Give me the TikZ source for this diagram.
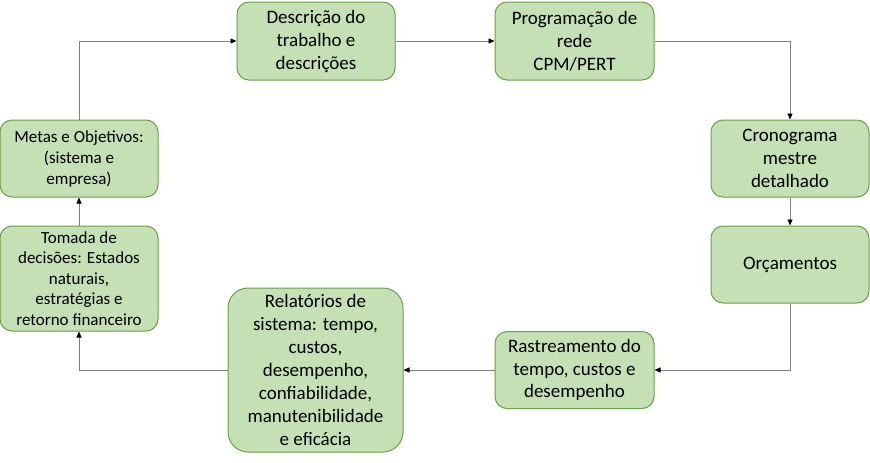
\documentclass[tikz,border=0pt]{standalone}
\usepackage{fontspec}
\setmainfont{Carlito}
\usetikzlibrary{arrows.meta}
\definecolor{boxfill}{HTML}{C5E0B4}
\definecolor{boxline}{HTML}{6AA04A}
\definecolor{conncol}{HTML}{7F7F7F}
\tikzset{
  box/.style={rectangle, draw=boxline, fill=boxfill, line width=1pt, rounded corners=12pt,
    align=center, inner sep=0pt, text=black, font=\fontsize{19}{23}\selectfont},
  conn/.style={draw=conncol, line width=0.9pt, -{Triangle[length=6pt,width=5pt,color=black]}}
}
\begin{document}
\begin{tikzpicture}[x=1pt,y=-1pt]
\useasboundingbox (0,0) rectangle (870,463);
\node[box, minimum width=158pt, minimum height=78pt] (desc) at (316,41) {Descrição do\\trabalho e\\descrições};
\node[box, minimum width=159pt, minimum height=78pt] (prog) at (574.5,41) {Programação de\\rede\\CPM/PERT};
\node[box, minimum width=158pt, minimum height=77pt] (crono) at (790,158.5) {Cronograma\\mestre\\detalhado};
\node[box, minimum width=158pt, minimum height=77pt] (orc) at (790,264.5) {Orçamentos};
\node[box, minimum width=159pt, minimum height=77pt, font=\fontsize{19}{22.5}\selectfont] (rast) at (574.5,370) {Rastreamento do\\tempo, custos e\\desempenho};
\node[box, minimum width=175pt, minimum height=164pt, rounded corners=20pt] (rel) at (315.5,370) {Relatórios de\\sistema: tempo,\\custos,\\desempenho,\\confiabilidade,\\manutenibilidade\\e eficácia};
\node[box, minimum width=158pt, minimum height=105pt, font=\fontsize{17}{20.5}\selectfont] (tom) at (79,278.5) {Tomada de\\decisões: Estados\\naturais,\\estratégias e\\retorno financeiro};
\node[box, minimum width=158pt, minimum height=77pt, font=\fontsize{17}{21}\selectfont] (metas) at (79,158.5) {Metas e Objetivos:\\(sistema e\\empresa)};
\draw[conn] (metas.north) |- (desc.west);
\draw[conn] (desc.east) -- (prog.west);
\draw[conn] (prog.east) -| (crono.north);
\draw[conn] (crono.south) -- (orc.north);
\draw[conn] (orc.south) |- (rast.east);
\draw[conn] (rast.west) -- (rel.east);
\draw[conn] (rel.west) -| (tom.south);
\draw[conn] (tom.north) -- (metas.south);
\end{tikzpicture}
\end{document}
